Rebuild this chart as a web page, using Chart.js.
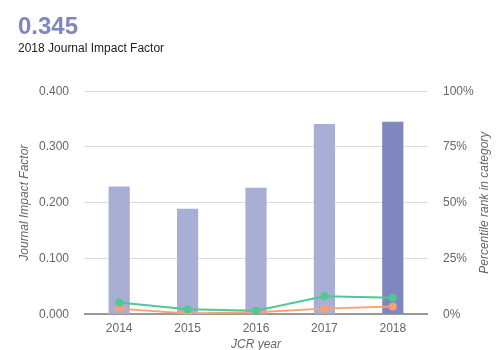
<!DOCTYPE html>
<html>
<head>
<meta charset="utf-8">
<script src="https://cdn.jsdelivr.net/npm/chart.js@4"></script>
<style>
  body { margin: 0; background: #fff; }
  #wrap { width: 500px; height: 350px; }
</style>
</head>
<body>
<div id="wrap"><canvas id="jifChart"></canvas></div>
<script>
const years = ['2014', '2015', '2016', '2017', '2018'];
const impactFactor = [0.229, 0.189, 0.227, 0.341, 0.345];
const rankA = [5.2, 2.2, 1.6, 8.0, 7.4];   // green
const rankB = [2.5, 0.3, 0.9, 2.5, 3.4];   // orange
const barColors = ['#a9afd4', '#a9afd4', '#a9afd4', '#a9afd4', '#7e87be'];

const grey = '#666';
const leftTitle = 'Journal Impact Factor';
const rightTitle = 'Percentile rank in category';
Chart.defaults.font.family = '"Liberation Sans", Arial, sans-serif';
Chart.defaults.font.size = 12;
Chart.defaults.color = grey;

// both y titles read bottom-to-top; drawn here so they sit where the original has them
const axisTitles = {
  id: 'axisTitles',
  afterDraw(chart) {
    const ctx = chart.ctx;
    const y = (chart.chartArea.top + chart.chartArea.bottom) / 2;
    const put = (text, x) => {
      ctx.save();
      ctx.translate(x, y);
      ctx.rotate(-Math.PI / 2);
      ctx.font = 'italic 12px "Liberation Sans", Arial, sans-serif';
      ctx.fillStyle = grey;
      ctx.textAlign = 'center';
      ctx.textBaseline = 'middle';
      ctx.fillText(text, 0, 0);
      ctx.restore();
    };
    put(leftTitle, 25);
    put(rightTitle, 485);
  }
};

new Chart(document.getElementById('jifChart'), {
  data: {
    labels: years,
    datasets: [
      {
        type: 'line',
        label: 'Rank A',
        data: rankA,
        yAxisID: 'yRank',
        borderColor: '#4fc894',
        backgroundColor: '#4fc894',
        borderWidth: 2,
        pointRadius: 4,
        pointBorderWidth: 0,
        tension: 0
      },
      {
        type: 'line',
        label: 'Rank B',
        data: rankB,
        yAxisID: 'yRank',
        borderColor: '#f7a172',
        backgroundColor: '#f7a172',
        borderWidth: 2,
        pointRadius: 4,
        pointBorderWidth: 0,
        tension: 0
      },
      {
        type: 'bar',
        label: 'Journal Impact Factor',
        data: impactFactor,
        yAxisID: 'yJif',
        backgroundColor: barColors,
        barPercentage: 0.31,
        categoryPercentage: 1
      }
    ]
  },
  options: {
    responsive: true,
    maintainAspectRatio: false,
    animation: false,
    layout: { padding: { left: 18, right: 3, top: 4, bottom: -2 } },
    plugins: {
      legend: { display: false },
      tooltip: { enabled: false },
      title: {
        display: true,
        text: '0.345',
        align: 'start',
        color: '#7e87be',
        font: { size: 24, weight: 'bold' },
        padding: { top: 9, bottom: 0 }
      },
      subtitle: {
        display: true,
        text: '2018 Journal Impact Factor',
        align: 'start',
        color: '#222',
        font: { size: 12 },
        padding: { bottom: 35 }
      }
    },
    scales: {
      x: {
        grid: { display: false, drawOnChartArea: false, drawTicks: true, tickLength: 5, color: '#555' },
        border: { display: true, color: '#999', width: 2 },
        ticks: { color: grey, padding: 2 },
        title: { display: true, text: 'JCR year', font: { style: 'italic' }, color: grey, padding: { top: 0, bottom: 0 } }
      },
      yJif: {
        position: 'left',
        min: 0,
        max: 0.4,
        ticks: { stepSize: 0.1, padding: 16, callback: v => v.toFixed(3) },
        grid: { color: '#dcd9ea', drawTicks: false },
        border: { display: false },
        afterFit: s => { s.width = 67; }
      },
      yRank: {
        position: 'right',
        min: 0,
        max: 100,
        ticks: { stepSize: 25, padding: 16, callback: v => v + '%' },
        grid: { display: false, drawTicks: false },
        border: { display: false },
        afterFit: s => { s.width = 70; }
      }
    }
  },
  plugins: [axisTitles]
});
</script>
</body>
</html>
